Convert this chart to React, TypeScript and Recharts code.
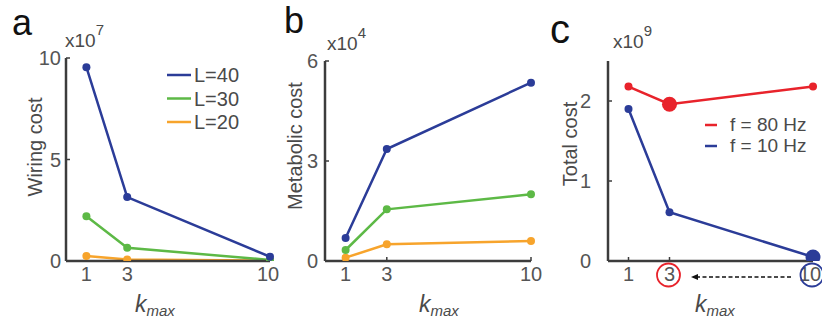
import React from 'react'
import { LineChart, Line, XAxis, YAxis } from 'recharts'

// k_max values shared by all panels
const K_VALUES = [1, 3, 10]

// panel a: wiring cost (x10^7)
const WIRING_L40 = [9.55, 3.15, 0.21]
const WIRING_L30 = [2.2, 0.65, 0.05]
const WIRING_L20 = [0.25, 0.08, 0.02]

// panel b: metabolic cost (x10^4)
const METAB_L40 = [0.69, 3.36, 5.35]
const METAB_L30 = [0.33, 1.55, 2.0]
const METAB_L20 = [0.1, 0.5, 0.6]

// panel c: total cost (x10^9)
const TOTAL_F80 = [2.18, 1.96, 2.18]
const TOTAL_F10 = [1.9, 0.61, 0.05]
const OPT_K_F80 = 3
const OPT_K_F10 = 10

const L_SERIES = [
  { key: 'l20', name: 'L=20', color: '#F7A42C' },
  { key: 'l30', name: 'L=30', color: '#5DB946' },
  { key: 'l40', name: 'L=40', color: '#2B3C98' },
]
const F_SERIES = [
  { key: 'f80', name: 'f = 80 Hz', color: '#E8232B' },
  { key: 'f10', name: 'f = 10 Hz', color: '#2B3C98' },
]

const wiringData = K_VALUES.map((k, i) => ({ k, l40: WIRING_L40[i], l30: WIRING_L30[i], l20: WIRING_L20[i] }))
const metabData = K_VALUES.map((k, i) => ({ k, l40: METAB_L40[i], l30: METAB_L30[i], l20: METAB_L20[i] }))
const totalData = K_VALUES.map((k, i) => ({ k, f80: TOTAL_F80[i], f10: TOTAL_F10[i] }))

const FONT = '"Liberation Sans", Arial, sans-serif'
const AXIS_COLOR = '#3c3c3c'
const TEXT_COLOR = '#4a4a4a'

const tickStyle = { fontSize: 20, fontFamily: FONT, fill: '#555' }

function XTick(props: any) {
  const { x, y, payload, rings, maxX } = props
  const ring = rings ? rings[payload.value] : null
  const tx = maxX ? Math.min(x, maxX) : x
  return (
    <g>
      <text x={tx} y={y} dy="0.71em" textAnchor="middle" style={tickStyle}>{payload.value}</text>
      {ring && <circle cx={x - 1} cy={y + 8} r={11.5} fill="none" stroke={ring} strokeWidth={1.8} />}
    </g>
  )
}

function Panel({ left, width, data, margin, yDomain, yTicks, series, bigDots, yGap }: any) {
  return (
    <div style={{ position: 'absolute', left, top: 0 }}>
      <LineChart width={width} height={320} data={data} margin={margin}>
        <XAxis
          dataKey="k" type="number" domain={[0, 10]} ticks={K_VALUES} height={30}
          axisLine={{ stroke: AXIS_COLOR, strokeWidth: 2.5 }}
          tickLine={{ stroke: AXIS_COLOR, strokeWidth: 1.5 }}
          tickSize={-4} tickMargin={10}
          tick={<XTick maxX={width - 12} rings={bigDots ? { [OPT_K_F80]: '#E8232B', [OPT_K_F10]: '#2B3C98' } : null} />}
        />
        <YAxis
          type="number" domain={yDomain} ticks={yTicks} width={30} allowDataOverflow
          axisLine={{ stroke: AXIS_COLOR, strokeWidth: 2.5 }}
          tickLine={{ stroke: AXIS_COLOR, strokeWidth: 1.5 }}
          tickSize={-4} tickMargin={yGap ?? 9}
          tick={tickStyle}
        />
        {series.map((s: any) => (
          <Line
            key={s.key} dataKey={s.key} stroke={s.color} strokeWidth={2.5}
            isAnimationActive={false}
            dot={(p: any) => {
              const big = bigDots && bigDots[s.key] === p.payload.k
              return <circle key={p.index} cx={p.cx} cy={p.cy} r={big ? 7.5 : 4} fill={s.color} />
            }}
            activeDot={false}
          />
        ))}
      </LineChart>
    </div>
  )
}

function Kmax({ x }: { x: number }) {
  return (
    <text x={x} y={312} fontFamily={FONT} fill={TEXT_COLOR} fontStyle="italic">
      <tspan fontSize={23}>k</tspan>
      <tspan fontSize={15} dy={4}>max</tspan>
    </text>
  )
}

function Multiplier({ x, y, exp }: { x: number; y: number; exp: string }) {
  return (
    <text x={x} y={y} fontFamily={FONT} fill={TEXT_COLOR} fontSize={19}>
      x10<tspan fontSize={15} dy={-12}>{exp}</tspan>
    </text>
  )
}

export default function App() {
  return (
    <div style={{ position: 'absolute', left: 0, top: 0, width: 822, height: 320, background: '#fff', overflow: 'hidden' }}>
      <Panel left={0} width={280} data={wiringData} margin={{ top: 58, right: 10, bottom: 29, left: 36 }}
        yDomain={[0, 10]} yTicks={[0, 5, 10]} series={L_SERIES} yGap={9} />
      <Panel left={270} width={280} data={metabData} margin={{ top: 61, right: 19, bottom: 29, left: 25 }}
        yDomain={[0, 6]} yTicks={[0, 3, 6]} series={L_SERIES} yGap={11} />
      <Panel left={540} width={282} data={totalData} margin={{ top: 61, right: 9, bottom: 29, left: 38 }}
        yDomain={[0, 2.5]} yTicks={[0, 1, 2]} series={F_SERIES} yGap={21}
        bigDots={{ f80: OPT_K_F80, f10: OPT_K_F10 }} />

      <svg width={822} height={320} style={{ position: 'absolute', left: 0, top: 0, pointerEvents: 'none' }}>
        {/* panel letters */}
        <text x={12} y={35} fontFamily={FONT} fontSize={36} fill="#111">a</text>
        <text x={284} y={33} fontFamily={FONT} fontSize={36} fill="#111">b</text>
        <text x={550} y={43} fontFamily={FONT} fontSize={40} fill="#111">c</text>

        <Multiplier x={65} y={47} exp="7" />
        <Multiplier x={327} y={50} exp="4" />
        <Multiplier x={613} y={48} exp="9" />

        {/* y labels */}
        <text transform="translate(35,147) rotate(-90)" textAnchor="middle" dominantBaseline="central" fontFamily={FONT} fontSize={20} fill={TEXT_COLOR}>Wiring cost</text>
        <text transform="translate(295,146) rotate(-90)" textAnchor="middle" dominantBaseline="central" fontFamily={FONT} fontSize={20} fill={TEXT_COLOR}>Metabolic cost</text>
        <text transform="translate(570,144) rotate(-90)" textAnchor="middle" dominantBaseline="central" fontFamily={FONT} fontSize={20} fill={TEXT_COLOR}>Total cost</text>

        <Kmax x={135} />
        <Kmax x={419} />
        <Kmax x={695} />

        {/* legend a */}
        {[...L_SERIES].reverse().map((s, i) => (
          <g key={s.key}>
            <line x1={167} x2={191} y1={75 + i * 23.5} y2={75 + i * 23.5} stroke={s.color} strokeWidth={2.5} />
            <text x={194} y={82 + i * 23.5} fontFamily={FONT} fontSize={20} fill={TEXT_COLOR}>{s.name}</text>
          </g>
        ))}

        {/* legend c */}
        {F_SERIES.map((s, i) => (
          <g key={s.key}>
            <line x1={705} x2={717} y1={125 + i * 21} y2={125 + i * 21} stroke={s.color} strokeWidth={2.5} />
            <text x={730} y={131 + i * 21} fontFamily={FONT} fontSize={19} fill={TEXT_COLOR}>{s.name}</text>
          </g>
        ))}

        {/* arrow from 10 to 3 */}
        <line x1={696} x2={791} y1={277} y2={277} stroke="#111" strokeWidth={1.6} strokeDasharray="4 2.5" />
        <path d="M691,277 L698,274 L698,280 Z" fill="#111" />
      </svg>
    </div>
  )
}
